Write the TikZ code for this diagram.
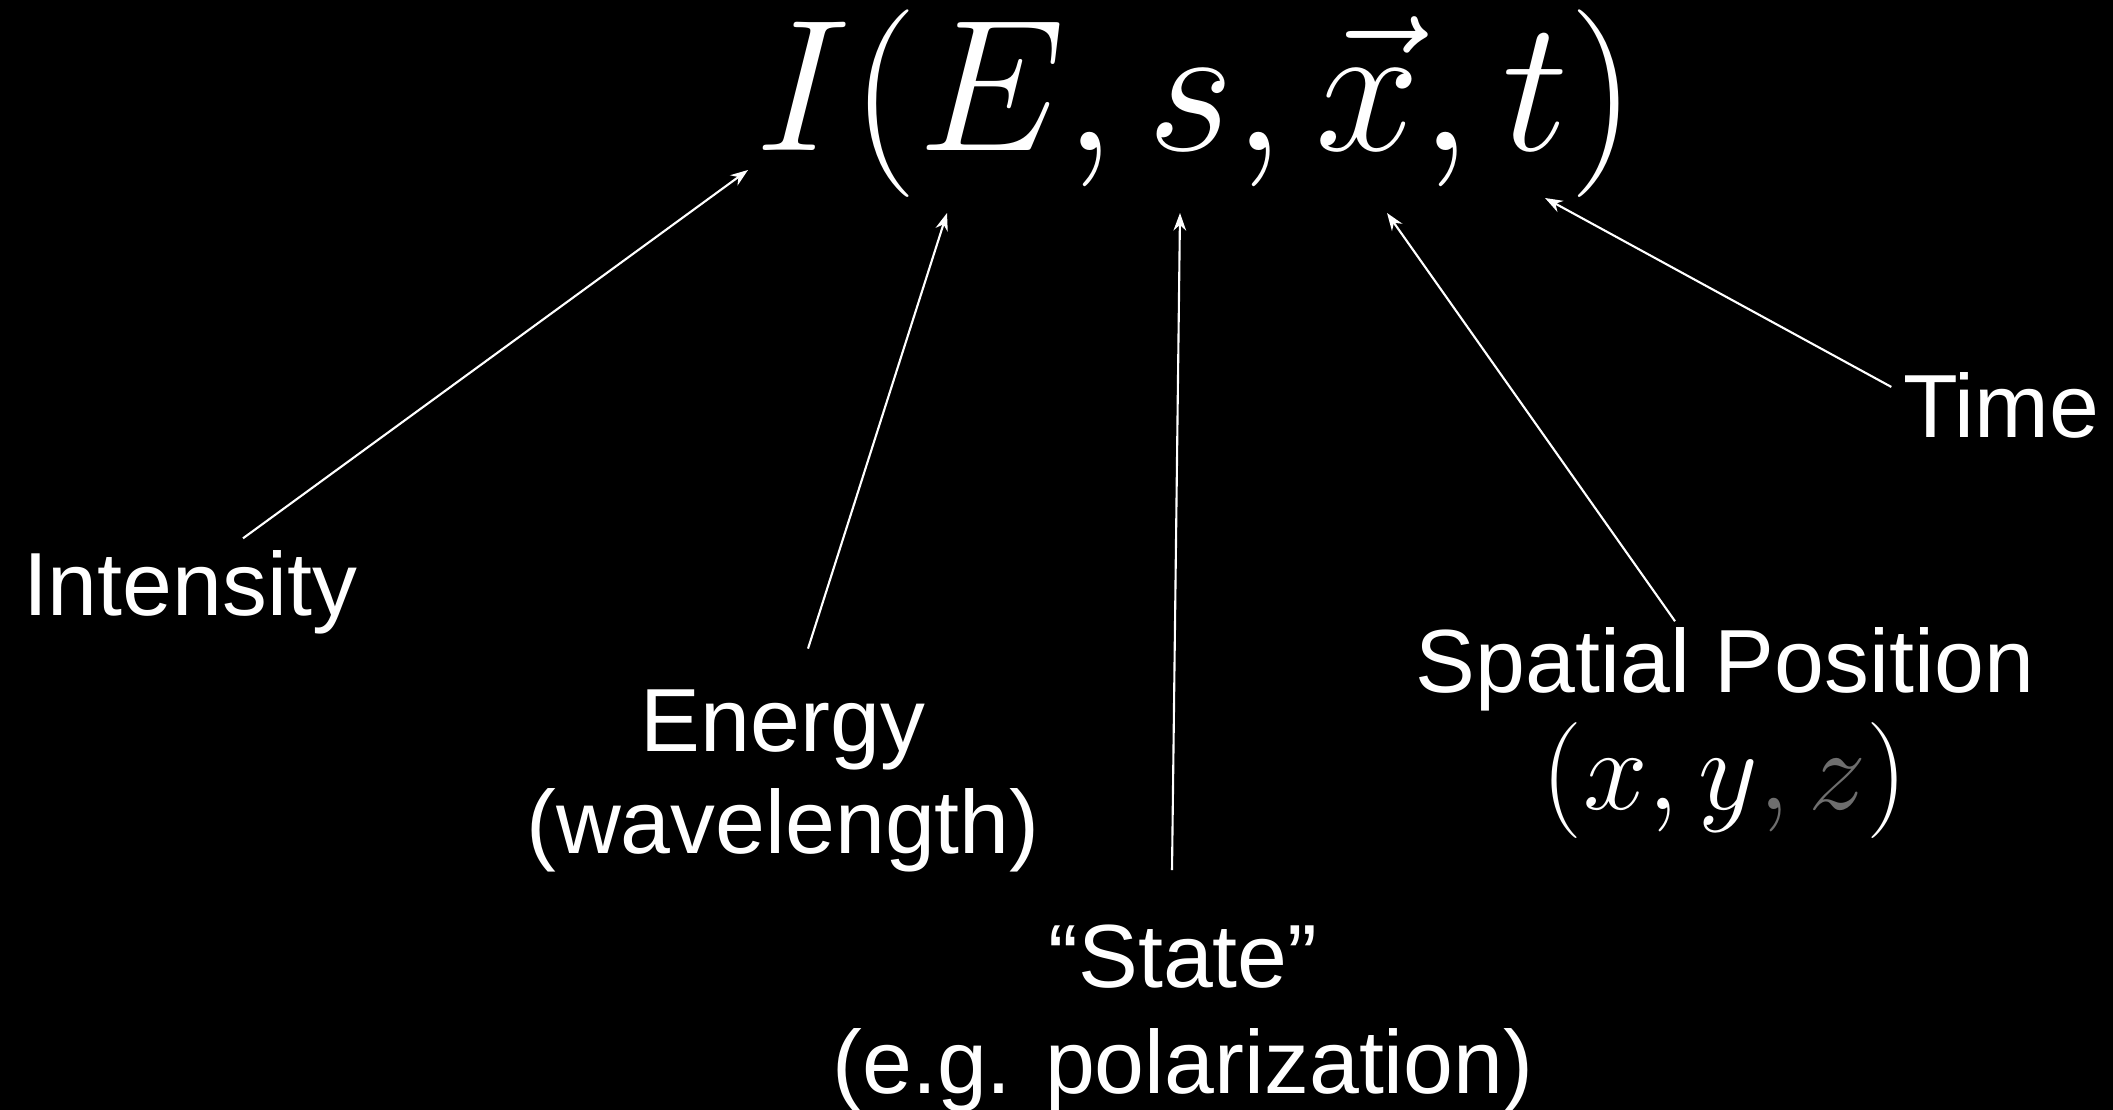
\RequirePackage{fix-cm}
\documentclass[tikz,border=0pt]{standalone}
\usepackage[no-math]{fontspec}
\newfontfamily\labelfont{Liberation Sans}
\usetikzlibrary{arrows.meta}
\definecolor{zgray}{RGB}{110,110,110}

\begin{document}
\begin{tikzpicture}[
  x=0.01cm, y=-0.01cm,
  lbl/.style={text=white, font=\labelfont\fontsize{25.5}{29}\selectfont,
              align=center, inner sep=0pt, anchor=base},
  eqn/.style={text=white, font=\fontsize{53.4}{60}\selectfont,
              inner sep=0pt, anchor=base},
  arr/.style={-{Stealth[length=5pt, width=3.6pt]}, white, line width=0.6pt}
]

\useasboundingbox (0,0) rectangle (2113,1109);
\fill[black] (-10,-10) rectangle (2123,1119);

\node[eqn] (eq) at (1196,150) {$I(E,s,\vec{x},t)$};

% base of a two-line label is its last line
\node[lbl] (intensity) at (190,615) {Intensity};
\node[lbl] (energy)    at (783,853) {Energy\\(wavelength)};
\node[lbl] (state)     at (1183,1093) {“State”\\[1pt](e.g. polarization)};
\node[lbl] (spatial)   at (1725,809) {Spatial Position\\[2pt]%
  {\fontsize{33}{36}\selectfont$(x,y{\color{zgray},z})$}};
\node[lbl] (time)      at (2001,437) {Time};

% arrow heads just under the symbols
\coordinate (tipI) at (748,170);
\coordinate (tipE) at (947,213);
\coordinate (tipS) at (1180,213);
\coordinate (tipX) at (1387,213);
\coordinate (tipT) at (1545,198);

\draw[arr] ([shift={(53,-11)}]intensity.north) -- (tipI);
\draw[arr] ([shift={(25,-40)}]energy.north) -- (tipE);
\draw[arr] ([shift={(-11,-54)}]state.north) -- (tipS);
\draw[arr] ([shift={(-50,-6)}]spatial.north) -- (tipX);
\draw[arr] ([shift={(-11,-18)}]time.west) -- (tipT);

\end{tikzpicture}
\end{document}
